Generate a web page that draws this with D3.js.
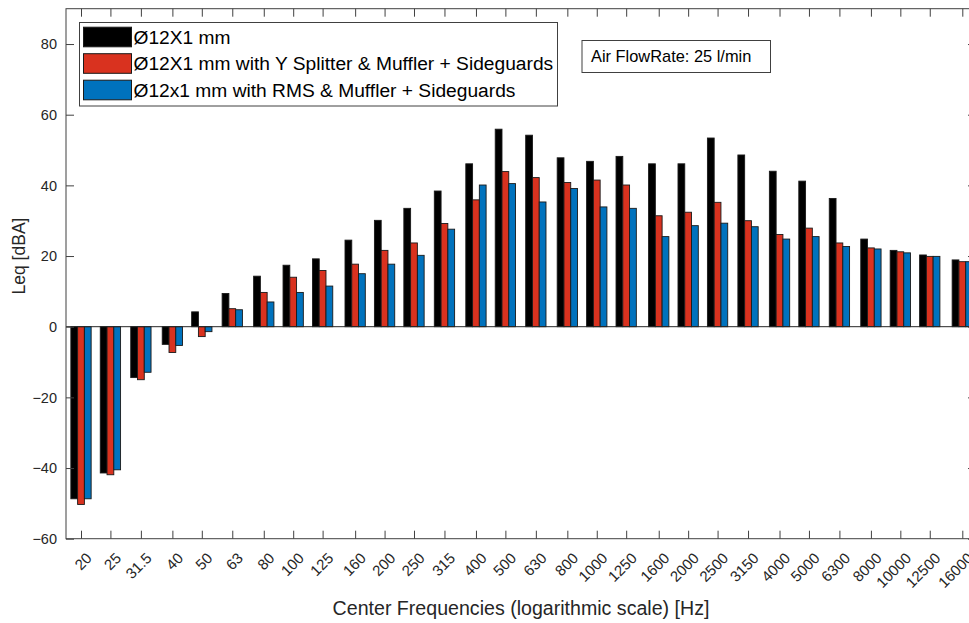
<!DOCTYPE html>
<html>
<head>
<meta charset="utf-8">
<script src="https://cdn.jsdelivr.net/npm/d3@7"></script>
<style>
  html, body { margin: 0; padding: 0; background: #fff; }
  svg { display: block; font-family: "Liberation Sans", Arial, Helvetica, sans-serif; }
</style>
</head>
<body>
<svg id="chart" width="969" height="623"></svg>
<script>
// One-third octave band centre frequencies [Hz]
const frequencies = [20, 25, 31.5, 40, 50, 63, 80, 100, 125, 160, 200, 250, 315, 400, 500,
  630, 800, 1000, 1250, 1600, 2000, 2500, 3150, 4000, 5000, 6300, 8000, 10000, 12500, 16000];
const freqLabels = ["20", "25", "31.5", "40", "50", "63", "80", "100", "125", "160", "200", "250",
  "315", "400", "500", "630", "800", "1000", "1250", "1600", "2000", "2500", "3150", "4000",
  "5000", "6300", "8000", "10000", "12500", "16000"];

// Leq [dBA] per band for each configuration
const plainTube = [-48.7, -41.4, -14.4, -5.0, 4.2, 9.4, 14.3, 17.4, 19.2, 24.5, 30.1, 33.5, 38.4,
  46.1, 55.9, 54.2, 47.8, 46.8, 48.2, 46.1, 46.1, 53.4, 48.6, 44.0, 41.2, 36.3, 24.8, 21.6, 20.3, 18.9];
const ySplitterMuffler = [-50.3, -41.9, -15.0, -7.3, -2.8, 5.1, 9.7, 14.0, 15.9, 17.7, 21.6, 23.7, 29.2,
  35.9, 43.9, 42.2, 40.8, 41.5, 40.1, 31.4, 32.4, 35.2, 30.0, 26.1, 27.9, 23.7, 22.3, 21.2, 19.9, 18.4];
const rmsMuffler = [-48.7, -40.5, -12.9, -5.3, -1.4, 4.8, 7.0, 9.7, 11.5, 15.0, 17.7, 20.2, 27.6,
  40.1, 40.5, 35.3, 39.1, 33.9, 33.5, 25.5, 28.6, 29.3, 28.3, 24.8, 25.5, 22.7, 22.0, 20.9, 19.9, 18.4];

const seriesNames = [
  "Ø12X1 mm",
  "Ø12X1 mm with Y Splitter & Muffler + Sideguards",
  "Ø12x1 mm with RMS & Muffler + Sideguards"
];
const seriesColors = ["#000000", "#d9321f", "#0072bd"];
const seriesValues = [plainTube, ySplitterMuffler, rmsMuffler];

const yTicks = [-60, -40, -20, 0, 20, 40, 60, 80];
const yDomain = [-60, 90];

const svg = d3.select("#chart");

// Axes box
const box = { left: 66, right: 976, top: 8.7, bottom: 538.7 };
const axisColor = "#404040";
const textColor = "#262626";

// Log-frequency position of each band centre
const x = d3.scaleLog().domain([20, 16000]).range([81, 962.3]);
const y = d3.scaleLinear().domain(yDomain).range([box.bottom, box.top]);

// Bars within a group
const groupWidth = 20.3;
const inner = d3.scaleBand().domain(d3.range(seriesNames.length)).range([-groupWidth / 2, groupWidth / 2]);

const plot = svg.append("g");

plot.append("rect")
  .attr("x", box.left).attr("y", box.top)
  .attr("width", box.right - box.left).attr("height", box.bottom - box.top)
  .attr("fill", "#fff");

svg.append("defs").append("clipPath").attr("id", "plotClip")
  .append("rect")
  .attr("x", box.left).attr("y", box.top)
  .attr("width", box.right - box.left).attr("height", box.bottom - box.top);

const barsG = plot.append("g").attr("clip-path", "url(#plotClip)");

seriesValues.forEach((vals, s) => {
  barsG.append("g")
    .selectAll("rect")
    .data(vals.map((v, i) => ({ f: frequencies[i], v })))
    .join("rect")
    .attr("x", d => x(d.f) + inner(s))
    .attr("width", inner.bandwidth())
    .attr("y", d => y(Math.max(0, d.v)))
    .attr("height", d => Math.abs(y(d.v) - y(0)))
    .attr("fill", seriesColors[s])
    .attr("stroke", "#1a1a1a")
    .attr("stroke-width", 0.9);
});

// Bar baseline
barsG.append("line")
  .attr("x1", box.left).attr("x2", box.right)
  .attr("y1", y(0)).attr("y2", y(0))
  .attr("stroke", "#262626").attr("stroke-width", 1);

// Axes
const tickLen = 8;
const bottomAxis = d3.axisBottom(x).tickValues(frequencies).tickSize(-tickLen).tickFormat((d, i) => freqLabels[i]);
const topAxis = d3.axisTop(x).tickValues(frequencies).tickSize(-tickLen).tickFormat("");
const leftAxis = d3.axisLeft(y).tickValues(yTicks).tickSize(-tickLen).tickPadding(9);
const rightAxis = d3.axisRight(y).tickValues(yTicks).tickSize(-tickLen).tickFormat("");

function styleAxis(g, size) {
  g.select(".domain").remove();
  g.selectAll(".tick line").attr("stroke", axisColor);
  g.selectAll("text").attr("fill", textColor).attr("font-size", size);
}

const gb = svg.append("g").attr("transform", `translate(0,${box.bottom})`).call(bottomAxis).call(styleAxis, 15);
gb.selectAll(".tick text")
  .attr("text-anchor", "end")
  .attr("transform", "translate(7.5,16.8) rotate(-45)")
  .attr("x", 0).attr("y", 0).attr("dy", "0.35em");

svg.append("g").attr("transform", `translate(0,${box.top})`).call(topAxis).call(styleAxis, 14);
svg.append("g").attr("transform", `translate(${box.left},0)`).call(leftAxis).call(styleAxis, 14.5);
svg.append("g").attr("transform", `translate(${box.right},0)`).call(rightAxis).call(styleAxis, 14);

// Frame
svg.append("rect")
  .attr("x", box.left).attr("y", box.top)
  .attr("width", box.right - box.left).attr("height", box.bottom - box.top)
  .attr("fill", "none").attr("stroke", axisColor).attr("stroke-width", 1);

// Axis titles
svg.append("text")
  .attr("x", 521).attr("y", 615)
  .attr("text-anchor", "middle")
  .attr("font-size", 19.6)
  .attr("fill", textColor)
  .text("Center Frequencies (logarithmic scale) [Hz]");

svg.append("text")
  .attr("transform", "translate(25,256) rotate(-90)")
  .attr("text-anchor", "middle")
  .attr("font-size", 17.5)
  .attr("fill", textColor)
  .text("Leq [dBA]");

// Legend
const legend = svg.append("g");
legend.append("rect")
  .attr("x", 79.5).attr("y", 22.5).attr("width", 478).attr("height", 83.5)
  .attr("fill", "#fff").attr("stroke", axisColor).attr("stroke-width", 1);

const rowY = [37, 63.5, 90];
seriesNames.forEach((name, i) => {
  legend.append("rect")
    .attr("x", 83.5).attr("y", rowY[i] - 9.8).attr("width", 48).attr("height", 19.6)
    .attr("fill", seriesColors[i]).attr("stroke", "#1a1a1a").attr("stroke-width", 1);
  legend.append("text")
    .attr("x", 133.5).attr("y", rowY[i]).attr("dy", "0.36em")
    .attr("font-size", 19.2).attr("fill", "#000")
    .text(name);
});

// Annotation
const note = svg.append("g");
note.append("rect")
  .attr("x", 582).attr("y", 40.5).attr("width", 188.5).attr("height", 32)
  .attr("fill", "#fff").attr("stroke", axisColor).attr("stroke-width", 1);
note.append("text")
  .attr("x", 591).attr("y", 56.5).attr("dy", "0.36em")
  .attr("font-size", 16.4).attr("fill", "#000")
  .text("Air FlowRate: 25 l/min");
</script>
</body>
</html>
